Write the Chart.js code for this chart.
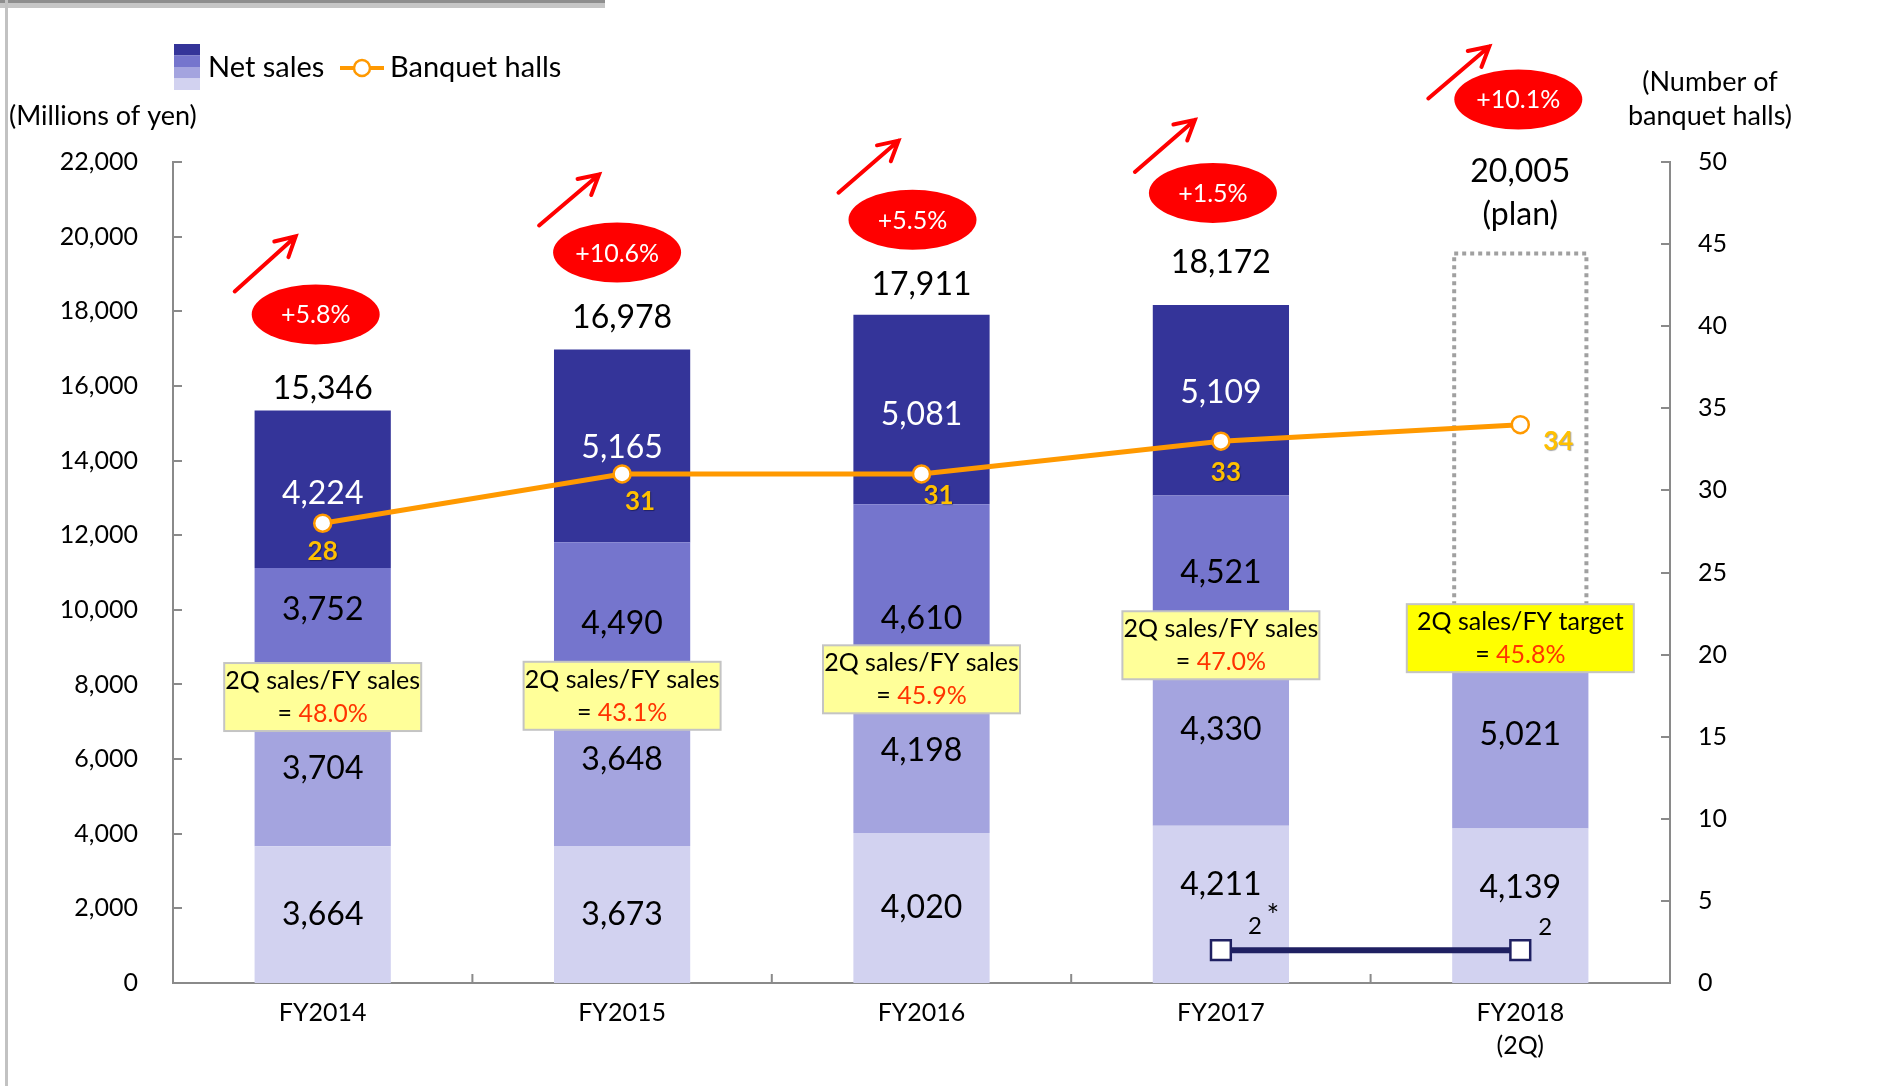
<!DOCTYPE html>
<html>
<head>
<meta charset="utf-8">
<script src="https://cdn.jsdelivr.net/npm/chart.js@4.4.1/dist/chart.umd.min.js"></script>
<style>
html, body { margin: 0; padding: 0; background: #ffffff; }
canvas { display: block; }
</style>
</head>
<body>
<canvas id="c" width="1879" height="1086"></canvas>
<script>
// ---------------- DATA ----------------
const categories = [['FY2014'], ['FY2015'], ['FY2016'], ['FY2017'], ['FY2018', '(2Q)']];
const q1Sales = [3664, 3673, 4020, 4211, 4139];
const q2Sales = [3704, 3648, 4198, 4330, 5021];
const q3Sales = [3752, 4490, 4610, 4521, null];
const q4Sales = [4224, 5165, 5081, 5109, null];
const totalLabels = ['15,346', '16,978', '17,911', '18,172', '20,005'];
const planNote = '(plan)';
const planOutlineTop = [null, null, null, null, 19550];
const banquetHalls = [28, 31, 31, 33, 34];
const otherHalls = [null, null, null, 2, 2];
const otherHallLabels = [null, null, null, '2', '2'];
const otherHallMarks = [null, null, null, '*', null];
const growthLabels = ['+5.8%', '+10.6%', '+5.5%', '+1.5%', '+10.1%'];
const ratioTitles = ['2Q sales/FY sales', '2Q sales/FY sales', '2Q sales/FY sales', '2Q sales/FY sales', '2Q sales/FY target'];
const ratioValues = ['48.0%', '43.1%', '45.9%', '47.0%', '45.8%'];
const salesTickValues = [0, 2000, 4000, 6000, 8000, 10000, 12000, 14000, 16000, 18000, 20000, 22000];
const hallTickValues = [0, 5, 10, 15, 20, 25, 30, 35, 40, 45, 50];

// ---------------- LAYOUT / STYLE ----------------
const FONT = 'Lato, "Open Sans", sans-serif';
const COLORS = { q1: '#D2D2F0', q2: '#A4A4DF', q3: '#7575CD', q4: '#343499', orange: '#FF9900', navy: '#1F2062', red: '#FF0000' };
const L = {
  segNudge: [[0, 0, 0, -20, -18], [-8, -18, -4, -15, 0], [-28, -2, 28, -7, 0], [4, 2, 5, -8, 0]],
  totalDy: [-22, -32, -30, -42],
  planDy: [-82, -39],
  ellipseDx: [-7, -5, -9, -8, -2],
  ellipseDy: [-74, -65, -65, -70, -72],
  arrows: [[-81, -23, -20, -78], [-78, -27, -18, -78], [-74, -27, -14, -79], [-78, -21, -18, -73], [-90, -1, -29, -53]],
  ratioDy: [-11, -14, 3, -19, -3],
  ratioW: [197, 197, 197, 197, 227],
  hallLabelOff: [[0, 28], [18, 28], [17, 22], [5, 31], [38, 17]],
  otherLabelOff: [null, null, null, [34, -24], [25, -23]]
};

const planData = planOutlineTop.map((v, i) => v == null ? null : v - q1Sales[i] - q2Sales[i]);

function drawArrow(ctx, x1, y1, x2, y2) {
  const ang = Math.atan2(y2 - y1, x2 - x1);
  const hl = 22, ha = 0.5;
  ctx.beginPath();
  ctx.moveTo(x1, y1); ctx.lineTo(x2, y2);
  ctx.moveTo(x2 - hl * Math.cos(ang - ha), y2 - hl * Math.sin(ang - ha));
  ctx.lineTo(x2, y2);
  ctx.lineTo(x2 - hl * Math.cos(ang + ha), y2 - hl * Math.sin(ang + ha));
  ctx.stroke();
}

const decor = {
  id: 'decor',
  beforeDraw(chart) {
    const { ctx, width, height } = chart;
    ctx.save();
    ctx.fillStyle = '#ffffff'; ctx.fillRect(0, 0, width, height);
    ctx.fillStyle = '#8e8e8e'; ctx.fillRect(0, 0, 605, 3);
    ctx.fillStyle = '#c6c6c6'; ctx.fillRect(0, 3, 605, 5);
    ctx.fillStyle = '#c2c2c2'; ctx.fillRect(5, 0, 3, height);
    ctx.restore();
  },
  afterDatasetDraw(chart, args) {
    if (args.index !== 4) return;
    const ctx = chart.ctx;
    args.meta.data.forEach((el, i) => {
      if (planData[i] == null) return;
      const w = el.width;
      ctx.save();
      ctx.strokeStyle = '#A0A0A0';
      ctx.lineWidth = 4;
      ctx.setLineDash([4, 4]);
      ctx.strokeRect(el.x - w / 2 + 2, el.y, w - 4, el.base - el.y);
      ctx.restore();
    });
  },
  afterDatasetsDraw(chart) {
    const { ctx, chartArea: ca } = chart;
    const xs = chart.scales.x, ys = chart.scales.y, y2 = chart.scales.y2;
    ctx.save();
    // inner tick marks
    ctx.strokeStyle = '#8a8a8a'; ctx.lineWidth = 2;
    ctx.beginPath();
    salesTickValues.forEach(v => { const p = Math.round(ys.getPixelForValue(v)); ctx.moveTo(ca.left, p); ctx.lineTo(ca.left + 9, p); });
    hallTickValues.forEach(v => { const p = Math.round(y2.getPixelForValue(v)); ctx.moveTo(ca.right, p); ctx.lineTo(ca.right - 9, p); });
    for (let i = 1; i < categories.length; i++) {
      const p = (xs.getPixelForValue(i - 1) + xs.getPixelForValue(i)) / 2;
      ctx.moveTo(p, ca.bottom); ctx.lineTo(p, ca.bottom - 9);
    }
    ctx.stroke();

    ctx.textAlign = 'center'; ctx.textBaseline = 'middle';
    // segment labels
    const segSets = [q1Sales, q2Sales, q3Sales, q4Sales];
    ctx.font = '32px ' + FONT;
    for (let d = 0; d < 4; d++) {
      chart.getDatasetMeta(d).data.forEach((el, i) => {
        const v = segSets[d][i];
        if (v == null) return;
        ctx.fillStyle = d === 3 ? '#ffffff' : '#000000';
        ctx.fillText(v.toLocaleString('en-US'), el.x, (el.y + el.base) / 2 + L.segNudge[d][i]);
      });
    }
    // totals, ellipses, arrows
    categories.forEach((c, i) => {
      const cx = xs.getPixelForValue(i);
      let labelY;
      ctx.fillStyle = '#000000';
      ctx.font = '32px ' + FONT;
      if (planData[i] != null) {
        const top = chart.getDatasetMeta(4).data[i].y;
        labelY = top + L.planDy[0];
        ctx.fillText(totalLabels[i], cx, labelY);
        ctx.fillText(planNote, cx, top + L.planDy[1]);
      } else {
        const sum = q1Sales[i] + q2Sales[i] + q3Sales[i] + q4Sales[i];
        labelY = ys.getPixelForValue(sum) + L.totalDy[i];
        ctx.fillText(totalLabels[i], cx, labelY);
      }
      const ex = cx + L.ellipseDx[i], ey = labelY + L.ellipseDy[i];
      ctx.fillStyle = COLORS.red;
      ctx.beginPath(); ctx.ellipse(ex, ey, 64, 30, 0, 0, Math.PI * 2); ctx.fill();
      ctx.fillStyle = '#ffffff'; ctx.font = '25px ' + FONT;
      ctx.fillText(growthLabels[i], ex, ey + 1);
      const a = L.arrows[i];
      ctx.strokeStyle = COLORS.red; ctx.lineWidth = 4; ctx.lineCap = 'round';
      drawArrow(ctx, ex + a[0], ey + a[1], ex + a[2], ey + a[3]);
    });
    // ratio boxes
    categories.forEach((c, i) => {
      const cx = xs.getPixelForValue(i);
      const cy = ys.getPixelForValue(q1Sales[i] + q2Sales[i]) + L.ratioDy[i];
      const w = L.ratioW[i], h = 68;
      ctx.fillStyle = i === 4 ? '#FFFF00' : '#FFFF99';
      ctx.fillRect(cx - w / 2, cy - h / 2, w, h);
      ctx.strokeStyle = '#C4C4C4'; ctx.lineWidth = 2;
      ctx.strokeRect(cx - w / 2, cy - h / 2, w, h);
      ctx.font = '25px ' + FONT;
      ctx.fillStyle = '#000000'; ctx.textAlign = 'center';
      ctx.fillText(ratioTitles[i], cx, cy - 16);
      const p1 = '= ', p2 = ratioValues[i];
      const w1 = ctx.measureText(p1).width, w2 = ctx.measureText(p2).width;
      const sx = cx - (w1 + w2) / 2;
      ctx.textAlign = 'left';
      ctx.fillText(p1, sx, cy + 17);
      ctx.fillStyle = '#FF3300';
      ctx.fillText(p2, sx + w1, cy + 17);
      ctx.textAlign = 'center';
    });
    // banquet hall labels
    ctx.font = 'bold 26px ' + FONT;
    chart.getDatasetMeta(5).data.forEach((el, i) => {
      const o = L.hallLabelOff[i];
      ctx.save();
      ctx.shadowColor = 'rgba(0,0,0,0.35)'; ctx.shadowOffsetX = 1; ctx.shadowOffsetY = 1; ctx.shadowBlur = 1;
      ctx.fillStyle = '#FFC000';
      ctx.fillText(String(banquetHalls[i]), el.x + o[0], el.y + o[1]);
      ctx.restore();
    });
    // other hall labels
    chart.getDatasetMeta(6).data.forEach((el, i) => {
      if (otherHalls[i] == null) return;
      const o = L.otherLabelOff[i];
      ctx.fillStyle = '#000000';
      ctx.font = '24px ' + FONT;
      ctx.fillText(otherHallLabels[i], el.x + o[0], el.y + o[1]);
      if (otherHallMarks[i]) {
        ctx.font = '30px ' + FONT;
        ctx.fillText(otherHallMarks[i], el.x + o[0] + 18, el.y + o[1] - 10);
      }
    });
    ctx.restore();
  },
  afterDraw(chart) {
    const ctx = chart.ctx;
    ctx.save();
    // legend
    const sw = [COLORS.q4, COLORS.q3, COLORS.q2, COLORS.q1];
    sw.forEach((c, k) => { ctx.fillStyle = c; ctx.fillRect(174, 44 + k * 11.5, 26, 11.5); });
    ctx.fillStyle = '#000000'; ctx.textBaseline = 'middle'; ctx.textAlign = 'left';
    ctx.font = '29px ' + FONT;
    ctx.fillText('Net sales', 208, 68);
    ctx.strokeStyle = COLORS.orange; ctx.lineWidth = 4;
    ctx.beginPath(); ctx.moveTo(340, 68); ctx.lineTo(384, 68); ctx.stroke();
    ctx.fillStyle = '#ffffff'; ctx.lineWidth = 2.5;
    ctx.beginPath(); ctx.arc(362, 68, 8, 0, Math.PI * 2); ctx.fill(); ctx.stroke();
    ctx.fillStyle = '#000000';
    ctx.fillText('Banquet halls', 390, 68);
    // axis titles
    ctx.font = '27px ' + FONT;
    ctx.fillText('(Millions of yen)', 9, 116);
    ctx.textAlign = 'center';
    ctx.fillText('(Number of', 1710, 82);
    ctx.fillText('banquet halls)', 1710, 116);
    ctx.restore();
  }
};

const barCommon = { stack: 'sales', barPercentage: 0.455, categoryPercentage: 1, borderWidth: 0, order: 2, yAxisID: 'y' };

new Chart(document.getElementById('c'), {
  type: 'bar',
  data: {
    labels: categories,
    datasets: [
      { ...barCommon, label: '1Q', data: q1Sales, backgroundColor: COLORS.q1 },
      { ...barCommon, label: '2Q', data: q2Sales, backgroundColor: COLORS.q2 },
      { ...barCommon, label: '3Q', data: q3Sales, backgroundColor: COLORS.q3 },
      { ...barCommon, label: '4Q', data: q4Sales, backgroundColor: COLORS.q4 },
      { ...barCommon, label: 'Plan', data: planData, backgroundColor: 'rgba(0,0,0,0)' },
      { type: 'line', label: 'Banquet halls', data: banquetHalls, yAxisID: 'y2', order: 0,
        borderColor: COLORS.orange, borderWidth: 5, pointRadius: 8.5, pointHoverRadius: 8.5,
        pointBackgroundColor: '#ffffff', pointBorderColor: COLORS.orange, pointBorderWidth: 2.5, tension: 0 },
      { type: 'line', label: 'Other halls', data: otherHalls, yAxisID: 'y2', order: 0,
        borderColor: COLORS.navy, borderWidth: 6, pointStyle: 'rect', pointRadius: 14, pointHoverRadius: 14,
        pointBackgroundColor: '#ffffff', pointBorderColor: COLORS.navy, pointBorderWidth: 2.5, tension: 0 }
    ]
  },
  options: {
    responsive: false,
    animation: false,
    devicePixelRatio: 1,
    layout: { padding: { top: 162, left: 0, right: 0, bottom: 0 } },
    plugins: { legend: { display: false }, tooltip: { enabled: false } },
    scales: {
      x: {
        stacked: true,
        grid: { display: false, drawTicks: false, tickLength: 0 },
        border: { display: true, color: '#8a8a8a', width: 2 },
        ticks: { color: '#000000', font: { family: FONT, size: 25, lineHeight: 1.3 }, padding: 14, maxRotation: 0, autoSkip: false },
        afterFit: s => { s.height = 103; }
      },
      y: {
        stacked: true, min: 0, max: 22000, position: 'left',
        grid: { display: false, drawTicks: false, tickLength: 0 },
        border: { display: true, color: '#8a8a8a', width: 2 },
        ticks: { color: '#000000', font: { family: FONT, size: 25 }, padding: 35, callback: v => Number(v).toLocaleString('en-US') },
        afterBuildTicks: s => { s.ticks = salesTickValues.map(v => ({ value: v })); },
        afterFit: s => { s.width = 173; }
      },
      y2: {
        min: 0, max: 50, position: 'right',
        grid: { display: false, drawTicks: false, tickLength: 0 },
        border: { display: true, color: '#8a8a8a', width: 2 },
        ticks: { color: '#000000', font: { family: FONT, size: 25 }, padding: 28 },
        afterBuildTicks: s => { s.ticks = hallTickValues.map(v => ({ value: v })); },
        afterFit: s => { s.width = 209; }
      }
    }
  },
  plugins: [decor]
});
</script>
</body>
</html>
